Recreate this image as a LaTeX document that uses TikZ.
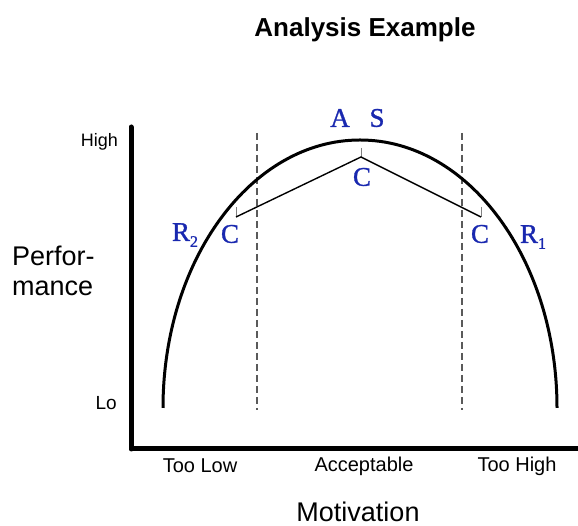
\documentclass[tikz,border=0pt]{standalone}
\usepackage{fontspec}
\setmainfont{Liberation Sans}
\newfontfamily\serifletters[FakeBold=1.2]{Liberation Serif}
\definecolor{letterblue}{RGB}{25,40,175}
\definecolor{dashgray}{RGB}{90,90,90}
\begin{document}
\begin{tikzpicture}[x=1pt,y=1pt,
  axisline/.style={line width=5pt},
  curveline/.style={line width=3pt},
  polyline/.style={line width=1.4pt},
  divider/.style={dashgray,dashed,line width=1.1pt,dash pattern=on 7pt off 4pt},
  tickline/.style={gray,line width=1pt},
  letter/.style={inner sep=0pt,text=letterblue,font=\serifletters\fontsize{27}{27}\selectfont},
  lbl/.style={inner sep=0pt,font=\fontsize{20}{20}\selectfont},
  biglbl/.style={inner sep=0pt,font=\fontsize{27}{30}\selectfont}]
\useasboundingbox (0,0) rectangle (578,526);
% title
\node[inner sep=0pt,font=\bfseries\fontsize{26}{26}\selectfont] (title) at (365,496) {Analysis Example};
% axes
\coordinate (ytop) at (131,399);
\coordinate (origin) at (131,77);
\coordinate (xend) at (580,77);
\draw[axisline,line cap=round] (ytop) -- (origin);
\draw[axisline] (origin) -- (xend);
% axis labels
\node[inner sep=0pt,font=\fontsize{18}{18}\selectfont,anchor=east] (high) at (118,384) {High};
\node[inner sep=0pt,font=\fontsize{19}{19}\selectfont,anchor=east] (lo) at (117,123) {Lo};
\node[biglbl,anchor=west,align=left] (perf) at (12,255) {Perfor-\\mance};
\node[lbl] (toolow) at (200,60) {Too Low};
\node[lbl] (accept) at (364,60) {Acceptable};
\node[lbl] (toohigh) at (517,60) {Too High};
\node[biglbl] (motiv) at (358,14) {Motivation};
% dashed dividers
\coordinate (d1t) at (257,393); \coordinate (d1b) at (257,116);
\coordinate (d2t) at (462,393); \coordinate (d2b) at (462,116);
\draw[divider] (d1t) -- (d1b);
\draw[divider] (d2t) -- (d2b);
% curve
\coordinate (cstart) at (163,118);
\draw[curveline] (cstart) arc[start angle=180,end angle=0,x radius=197,y radius=268];
% polyline
\coordinate (pl) at (236,309);
\coordinate (pm) at (361,369);
\coordinate (pr) at (481,309);
\coordinate (tl) at (236,319);
\coordinate (tm) at (361,378);
\coordinate (tr) at (481,319);
\draw[tickline] (tl) -- (pl);
\draw[tickline] (tm) -- (pm);
\draw[tickline] (tr) -- (pr);
\draw[polyline] (pl) -- (pm) -- (pr);
% letters
\node[letter] (cm) at (362,349) {C};
\node[letter] (cl) at (230,292) {C};
\node[letter] (cr) at (480,292) {C};
\node[letter] (a) at (340,408) {A};
\node[letter] (s) at (377,408) {S};
\node[letter] (r2) at (185,291) {R\raisebox{-0.22em}{\fontsize{16}{16}\selectfont 2}};
\node[letter] (r1) at (533,289) {R\raisebox{-0.22em}{\fontsize{16}{16}\selectfont 1}};
\end{tikzpicture}
\end{document}
